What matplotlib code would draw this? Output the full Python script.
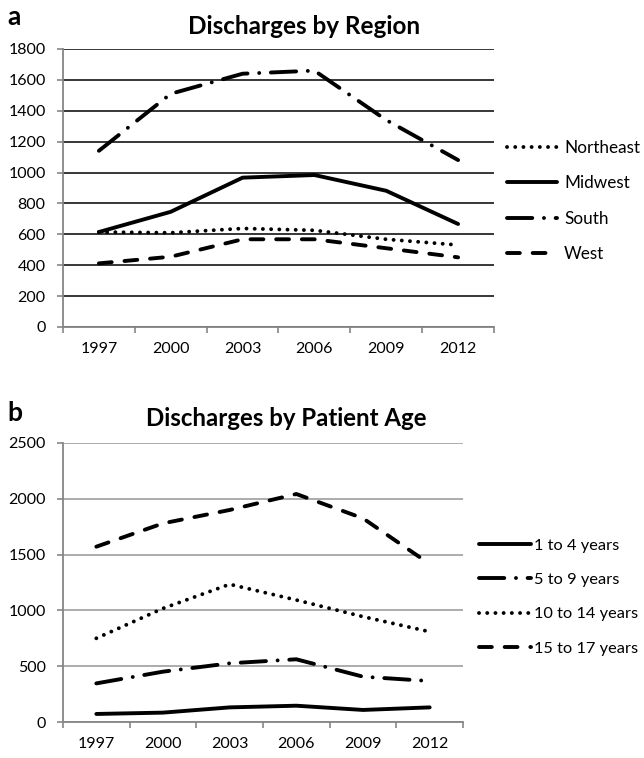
import matplotlib.pyplot as plt

plt.rcParams['font.family'] = ['Lato', 'DejaVu Sans']

years = ['1997', '2000', '2003', '2006', '2009', '2012']

# panel a - discharges by region
northeast = [615, 610, 638, 626, 568, 531]
midwest = [615, 746, 967, 984, 882, 667]
south = [1141, 1510, 1640, 1660, 1340, 1081]
west = [412, 455, 568, 568, 510, 451]

# panel b - discharges by patient age
age_1_4 = [72, 84, 131, 146, 108, 131]
age_5_9 = [346, 451, 526, 562, 406, 367]
age_10_14 = [750, 1018, 1234, 1093, 944, 809]
age_15_17 = [1571, 1780, 1900, 2043, 1825, 1416]

W, H = 644, 758
fig = plt.figure(figsize=(W / 100, H / 100), dpi=100)

dot = (0, (0.01, 2.1))
longdashdot = (0, (6.5, 3, 0.01, 3))
dash = (0, (3.3, 3.3))
lw = 2.8


def draw(ax, vals, style, label):
    ax.plot(range(len(years)), vals, color='black', lw=lw, linestyle=style,
            dash_capstyle='round', solid_capstyle='round', label=label)


def style_axes(ax, grid_color, ymax, step):
    n = len(years)
    ax.set_xlim(-0.5, n - 0.5)
    ax.set_ylim(0, ymax)
    ax.set_yticks(range(0, ymax + 1, step))
    ax.set_xticks(range(n))
    ax.set_xticklabels(years)
    ax.set_xticks([i - 0.5 for i in range(n + 1)], minor=True)
    ax.tick_params(axis='x', which='major', length=0, pad=11, labelsize=11.5)
    ax.tick_params(axis='x', which='minor', length=4.5, color='#868686', width=1.2)
    ax.tick_params(axis='y', length=4.5, color='#868686', width=1.2, pad=8, labelsize=11.5)
    for s in ['top', 'right']:
        ax.spines[s].set_visible(False)
    for s in ['left', 'bottom']:
        ax.spines[s].set_color('#868686')
        ax.spines[s].set_linewidth(1.3)
    ax.yaxis.grid(True, color=grid_color, linewidth=1.3)
    ax.set_axisbelow(True)


# ---- panel a
ax1 = fig.add_axes([63 / W, 1 - 327 / H, (494 - 63) / W, (327 - 49) / H])
draw(ax1, northeast, dot, 'Northeast')
draw(ax1, midwest, '-', 'Midwest')
draw(ax1, south, longdashdot, 'South')
draw(ax1, west, dash, 'West')
style_axes(ax1, '#262626', 1800, 200)
ax1.legend(loc='center left', bbox_to_anchor=(507 / W, 1 - 201 / H), bbox_transform=fig.transFigure,
           frameon=False, fontsize=12.3, handlelength=2.9, handletextpad=0.45, labelspacing=1.12,
           borderpad=0, borderaxespad=0)
fig.text(304 / W, 1 - 27 / H, 'Discharges by Region', ha='center', va='center',
         fontsize=17.5, fontweight='bold')
fig.text(7 / W, 1 - 17 / H, 'a', ha='left', va='center', fontsize=19, fontweight='bold')

# ---- panel b
ax2 = fig.add_axes([63 / W, 1 - 722 / H, (463 - 63) / W, (722 - 443) / H])
draw(ax2, age_1_4, '-', '1 to 4 years')
draw(ax2, age_5_9, longdashdot, '5 to 9 years')
draw(ax2, age_10_14, dot, '10 to 14 years')
draw(ax2, age_15_17, dash, '15 to 17 years')
style_axes(ax2, '#a6a6a6', 2500, 500)
ax2.legend(loc='center left', bbox_to_anchor=(479 / W, 1 - 597 / H), bbox_transform=fig.transFigure,
           frameon=False, fontsize=11.8, handlelength=3.2, handletextpad=0.15, labelspacing=1.22,
           borderpad=0, borderaxespad=0)
fig.text(286 / W, 1 - 418 / H, 'Discharges by Patient Age', ha='center', va='center',
         fontsize=17.3, fontweight='bold')
fig.text(7 / W, 1 - 413 / H, 'b', ha='left', va='center', fontsize=19, fontweight='bold')

fig.savefig('out.png', dpi=100, facecolor='white')
